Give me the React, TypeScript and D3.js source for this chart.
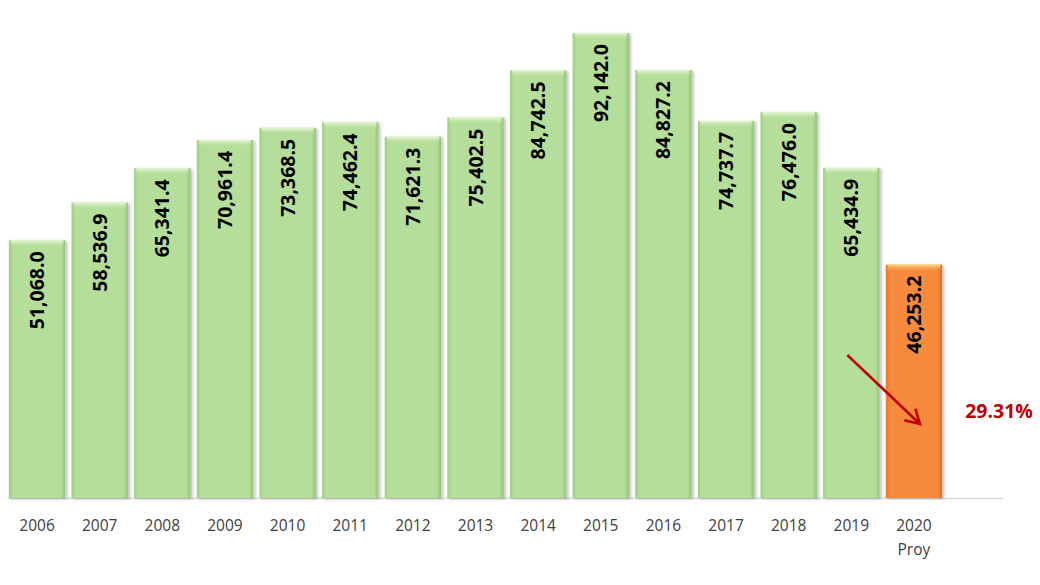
import React from "react";
import * as d3 from "d3";

const years = ["2006","2007","2008","2009","2010","2011","2012","2013","2014","2015","2016","2017","2018","2019","2020"];
const subLabels = ["","","","","","","","","","","","","","","Proy"];
const values = [51068.0,58536.9,65341.4,70961.4,73368.5,74462.4,71621.3,75402.5,84742.5,92142.0,84827.2,74737.7,76476.0,65434.9,46253.2];
const projected = [false,false,false,false,false,false,false,false,false,false,false,false,false,false,true];
const changeLabel = "29.31%";

const W = 1040, H = 585;

export default function App() {
  const x = d3.scaleBand<string>().domain(years).range([7, 944]).paddingInner(0.1).paddingOuter(0.03);
  const y = d3.scaleLinear().domain([0, 98700]).range([498, 0]);
  const fmt = d3.format(",.1f");
  const bw = x.bandwidth();
  const last = years[years.length - 1];
  const prev = years[years.length - 2];
  return (
    <svg width={W} height={H} style={{ position: "absolute", left: 0, top: 0 }}>
      <defs>
        <linearGradient id="gG" x1="0" x2="1" y1="0" y2="0">
          <stop offset="0" stopColor="#9fcf80" />
          <stop offset="0.08" stopColor="#b5de9a" />
          <stop offset="0.92" stopColor="#b5de9a" />
          <stop offset="1" stopColor="#94c474" />
        </linearGradient>
        <linearGradient id="gO" x1="0" x2="1" y1="0" y2="0">
          <stop offset="0" stopColor="#e57a2c" />
          <stop offset="0.08" stopColor="#f78b3c" />
          <stop offset="0.92" stopColor="#f78b3c" />
          <stop offset="1" stopColor="#dc7024" />
        </linearGradient>
        <linearGradient id="gTopG" x1="0" x2="0" y1="0" y2="1">
          <stop offset="0" stopColor="#eaf7d8" />
          <stop offset="1" stopColor="#b5de9a" stopOpacity="0" />
        </linearGradient>
        <linearGradient id="gTopO" x1="0" x2="0" y1="0" y2="1">
          <stop offset="0" stopColor="#fbe08a" />
          <stop offset="1" stopColor="#f78b3c" stopOpacity="0" />
        </linearGradient>
        <filter id="sh" x="-20%" y="-5%" width="140%" height="110%">
          <feDropShadow dx="2" dy="1" stdDeviation="1.5" floodColor="#000" floodOpacity="0.25" />
        </filter>
        <marker id="arr" viewBox="0 0 10 10" refX="8" refY="5" markerWidth="8" markerHeight="8" orient="auto" markerUnits="strokeWidth">
          <path d="M1,1 L8,5 L1,9" fill="none" stroke="#c00000" strokeWidth="1.3" />
        </marker>
      </defs>
      <line x1={8} x2={1003} y1={498.5} y2={498.5} stroke="#d9d9d9" strokeWidth={1.5} />
      {years.map((yr, i) => {
        const bx = x(yr)!;
        const by = y(values[i]);
        const bh = y(0) - by;
        const p = projected[i];
        return (
          <g key={yr}>
            <rect x={bx} y={by} width={bw} height={bh} fill={p ? "url(#gO)" : "url(#gG)"} filter="url(#sh)" />
            <rect x={bx + 2} y={by} width={bw - 4} height={7} fill={p ? "url(#gTopO)" : "url(#gTopG)"} />
            <text
              transform={`translate(${bx + bw / 2 + 7},${by + 11}) rotate(-90)`}
              textAnchor="end"
              fontFamily="'Open Sans', sans-serif"
              fontWeight="bold"
              fontSize={19.5}
              fill="#000"
            >
              {fmt(values[i])}
            </text>
            <text x={bx + bw / 2} y={531} textAnchor="middle" fontFamily="'Open Sans', sans-serif" fontSize={15.5} fill="#404040">{yr}</text>
            {subLabels[i] && (
              <text x={bx + bw / 2} y={555} textAnchor="middle" fontFamily="'Open Sans', sans-serif" fontSize={15.5} fill="#404040">{subLabels[i]}</text>
            )}
          </g>
        );
      })}
      <line
        x1={x(prev)! + bw / 2 - 4}
        y1={355}
        x2={x(last)! + bw / 2 + 6}
        y2={424}
        stroke="#c00000"
        strokeWidth={2.5}
        markerEnd="url(#arr)"
      />
      <text x={999} y={418} textAnchor="middle" fontFamily="'Open Sans', sans-serif" fontWeight="bold" fontSize={19.5} fill="#c00000">{changeLabel}</text>
    </svg>
  );
}
